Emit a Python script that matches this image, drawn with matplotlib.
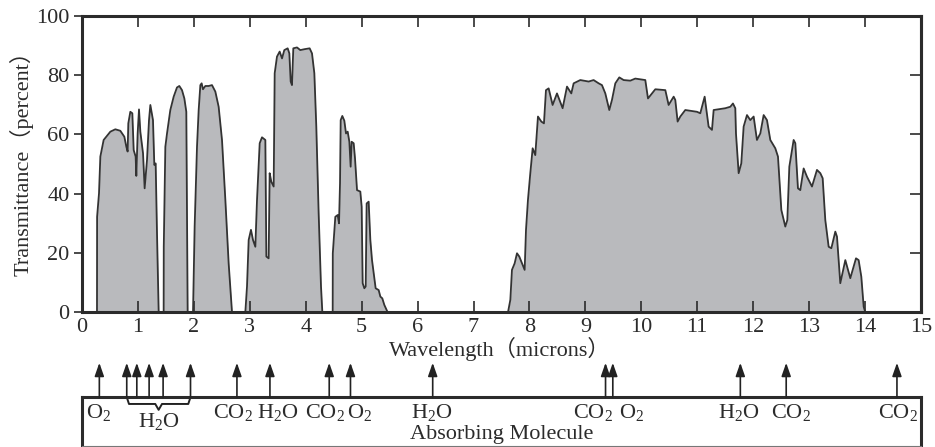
import matplotlib
matplotlib.use("Agg")
import matplotlib.pyplot as plt

plt.rcParams['font.family'] = ['Liberation Serif', 'Noto Sans CJK JP']
plt.rcParams['mathtext.fontset'] = 'custom'
plt.rcParams['mathtext.rm'] = 'Liberation Serif'
plt.rcParams['mathtext.it'] = 'Liberation Serif:italic'

# transmittance spectrum (microns, percent)
WAVELENGTH = [
    0.268, 0.270, 0.304, 0.328, 0.387, 0.507, 0.596, 0.685, 0.757, 0.793, 0.816, 0.828,
    0.864, 0.900, 0.924, 0.959, 0.971, 0.995, 1.019, 1.043, 1.091, 1.120, 1.162, 1.198,
    1.222, 1.269, 1.293, 1.317, 1.341, 1.371,
    1.460, 1.462, 1.490, 1.520, 1.579, 1.639, 1.698, 1.740, 1.788, 1.830, 1.865, 1.889,
    1.985, 2.014, 2.056, 2.086, 2.116, 2.139, 2.163, 2.205, 2.265, 2.324, 2.384, 2.443,
    2.503, 2.563, 2.622, 2.682,
    2.920, 2.950, 2.980, 3.021, 3.057, 3.099, 3.129, 3.177, 3.218, 3.278, 3.296, 3.337,
    3.355, 3.385, 3.427, 3.445, 3.486, 3.534, 3.576, 3.617, 3.677, 3.707, 3.731, 3.754,
    3.778, 3.844, 3.903, 3.975, 4.070, 4.112, 4.154, 4.189, 4.231, 4.273, 4.297,
    4.482, 4.484, 4.529, 4.571, 4.595, 4.613, 4.625, 4.654, 4.690, 4.720, 4.750, 4.780,
    4.803, 4.821, 4.857, 4.881, 4.917, 4.976, 5.000, 5.018, 5.048, 5.072, 5.089, 5.125,
    5.155, 5.185, 5.215, 5.250, 5.304, 5.334, 5.369, 5.405, 5.465,
    7.616, 7.658, 7.687, 7.735, 7.777, 7.818, 7.866, 7.914, 7.938, 7.973, 8.015, 8.057,
    8.104, 8.152, 8.212, 8.259, 8.295, 8.343, 8.414, 8.492, 8.593, 8.671, 8.748, 8.790,
    8.909, 9.058, 9.147, 9.237, 9.296, 9.356, 9.427, 9.475, 9.535, 9.606, 9.684, 9.803,
    9.892, 10.071, 10.119, 10.190, 10.250, 10.429, 10.488, 10.578, 10.607, 10.649, 10.697,
    10.786, 10.995, 11.054, 11.132, 11.203, 11.263, 11.293, 11.501, 11.591, 11.638, 11.680,
    11.692, 11.740, 11.787, 11.829, 11.889, 11.948, 12.008, 12.067, 12.127, 12.187, 12.246,
    12.306, 12.395, 12.443, 12.503, 12.574, 12.610, 12.646, 12.723, 12.753, 12.800, 12.842,
    12.902, 12.962, 13.051, 13.140, 13.200, 13.242, 13.289, 13.349, 13.397, 13.468, 13.498,
    13.557, 13.647, 13.736, 13.838, 13.885, 13.933, 13.975, 14.004,
]
TRANSMITTANCE = [
    0, 32.2, 40.1, 52.5, 58.1, 60.9, 61.7, 61.2, 59.2, 55.8, 54.2, 63.7,
    67.6, 67.1, 54.7, 52.5, 46.0, 60.3, 68.4, 60.9, 53.6, 41.8, 51.3, 64.8,
    69.9, 64.8, 49.7, 50.2, 26.6, 0,
    0, 22.1, 55.8, 60.3, 68.2, 72.7, 75.8, 76.3, 74.9, 72.1, 67.6, 0,
    0, 28.9, 55.8, 68.2, 76.6, 77.2, 75.2, 76.3, 76.3, 76.6, 74.4, 69.3,
    58.1, 37.9, 16.5, 0,
    0, 8.7, 24.4, 27.8, 24.4, 22.1, 37.9, 57.0, 59.0, 58.1, 18.8, 18.2,
    46.9, 44.0, 42.4, 80.6, 86.2, 87.9, 85.6, 88.4, 89.0, 87.3, 77.8, 76.6,
    89.0, 89.3, 88.4, 88.7, 89.0, 87.3, 80.6, 62.6, 33.4, 8.7, 0,
    0, 19.9, 32.2, 32.8, 30.0, 43.5, 64.8, 66.2, 64.6, 60.3, 60.9, 57.5,
    49.1, 57.5, 57.0, 51.9, 41.2, 40.7, 35.6, 9.8, 8.1, 8.7, 36.7, 37.3,
    24.4, 17.6, 13.1, 8.1, 7.5, 5.3, 4.7, 2.5, 0,
    0, 4.2, 14.3, 16.5, 19.9, 18.8, 16.5, 14.3, 27.8, 37.9, 46.9, 55.3,
    53.0, 66.0, 64.3, 63.7, 74.9, 75.5, 69.9, 73.8, 68.8, 76.1, 73.8, 77.2,
    78.3, 77.8, 78.3, 77.2, 76.6, 73.8, 68.2, 71.6, 77.2, 79.2, 78.3, 78.1,
    78.8, 78.3, 72.1, 73.8, 75.2, 74.9, 69.9, 72.7, 71.6, 64.3, 66.0,
    68.2, 67.6, 67.1, 72.7, 62.6, 61.5, 68.2, 68.8, 69.3, 70.4, 68.8,
    60.3, 46.9, 50.2, 62.6, 66.5, 64.8, 66.0, 58.1, 60.3, 66.5, 64.8,
    58.1, 55.3, 52.5, 34.5, 28.9, 31.1, 49.1, 58.1, 57.0, 41.8, 41.2,
    48.5, 45.7, 42.4, 48.0, 46.9, 45.2, 31.1, 22.1, 21.6, 27.2, 25.5,
    9.8, 17.6, 11.5, 18.2, 17.6, 12.0, 1.9, 0,
]

# absorption bands marked under the plot
ARROW_POS = [0.31, 0.80, 0.98, 1.20, 1.45, 1.94, 2.77, 3.36, 4.42, 4.80,
             6.27, 9.36, 9.49, 11.77, 12.59, 14.57]
MOLECULES = ["O$_\\mathrm{2}$", "CO$_\\mathrm{2}$", "H$_\\mathrm{2}$O", "CO$_\\mathrm{2}$",
             "O$_\\mathrm{2}$", "H$_\\mathrm{2}$O", "CO$_\\mathrm{2}$", "O$_\\mathrm{2}$",
             "H$_\\mathrm{2}$O", "CO$_\\mathrm{2}$", "CO$_\\mathrm{2}$"]
MOLECULE_POS = [0.30, 2.70, 3.50, 4.35, 4.96, 6.25, 9.14, 9.82, 11.75, 12.68, 14.58]
BRACE_LABEL = "H$_\\mathrm{2}$O"
BRACE_SPAN = (0.80, 1.94)

DARK = "#2b2b2b"
GRAY = "#b9babd"

fig = plt.figure(figsize=(9.35, 4.47), dpi=100)
ax = fig.add_axes([82 / 935, 1 - 312.3 / 447, 839 / 935, 296.6 / 447])

ax.fill_between(WAVELENGTH, TRANSMITTANCE, color=GRAY, lw=0, zorder=1)
ax.plot(WAVELENGTH, TRANSMITTANCE, color="#333333", lw=1.3, zorder=2)

ax.set_xlim(0, 15)
ax.set_ylim(0, 100)
ax.set_xticks(range(16))
ax.set_yticks(range(0, 101, 20))
ax.tick_params(axis="x", direction="in", top=True, length=8, width=1.2,
               labelsize=16, pad=4, colors=DARK)
ax.tick_params(axis="y", direction="out", length=6, width=1.2,
               labelsize=16, pad=3, colors=DARK)
ax.tick_params(axis="y", which="both", right=False)
ax2y = ax.secondary_yaxis("right")
ax2y.set_yticks(range(0, 101, 20))
ax2y.tick_params(direction="in", length=8, width=1.2, labelright=False, color=DARK)
ax2y.spines["right"].set_linewidth(2.2)
ax2y.spines["right"].set_color(DARK)
for s in ax.spines.values():
    s.set_linewidth(2.2)
    s.set_color(DARK)

fig.text(500 / 935, 1 - 349 / 447, "Wavelength（microns）", ha="center", va="center",
         fontsize=16, color=DARK)
fig.text(22 / 935, 1 - 158 / 447, "Transmittance（percent）", ha="center", va="center",
         rotation=90, fontsize=16, color=DARK)

# lower panel with arrows and molecule names
bx = fig.add_axes([82 / 935, 0.002, 839 / 935, 49 / 447])
bx.set_xlim(0, 15)
bx.set_ylim(0, 1)
bx.set_xticks([])
bx.set_yticks([])
for name in ("top", "left", "right"):
    bx.spines[name].set_linewidth(2.2)
    bx.spines[name].set_color(DARK)
bx.spines["bottom"].set_linewidth(0.8)
bx.spines["bottom"].set_color("#777777")

for x in ARROW_POS:
    bx.annotate("", xy=(x, 1.70), xytext=(x, 1.0),
                arrowprops=dict(arrowstyle="-|>,head_length=0.8,head_width=0.28",
                                color="#222222", lw=1.2, shrinkA=0, shrinkB=0),
                annotation_clip=False)

for label, x in zip(MOLECULES, MOLECULE_POS):
    bx.text(x, 0.68, label, ha="center", va="center", fontsize=16, color=DARK)

# curly brace grouping the near-infrared water bands
x0, x1 = BRACE_SPAN
xm = 1.37
bx.plot([x0, x0 + 0.04, xm - 0.06, xm, xm + 0.06, x1 - 0.04, x1],
        [1.0, 0.86, 0.86, 0.74, 0.86, 0.86, 1.0],
        color="#222222", lw=1.4, clip_on=False)
bx.text(xm, 0.50, BRACE_LABEL, ha="center", va="center", fontsize=16, color=DARK)

bx.text(7.5, 0.24, "Absorbing Molecule", ha="center", va="center",
        fontsize=16, color=DARK)

fig.savefig("out.png", dpi=100)
